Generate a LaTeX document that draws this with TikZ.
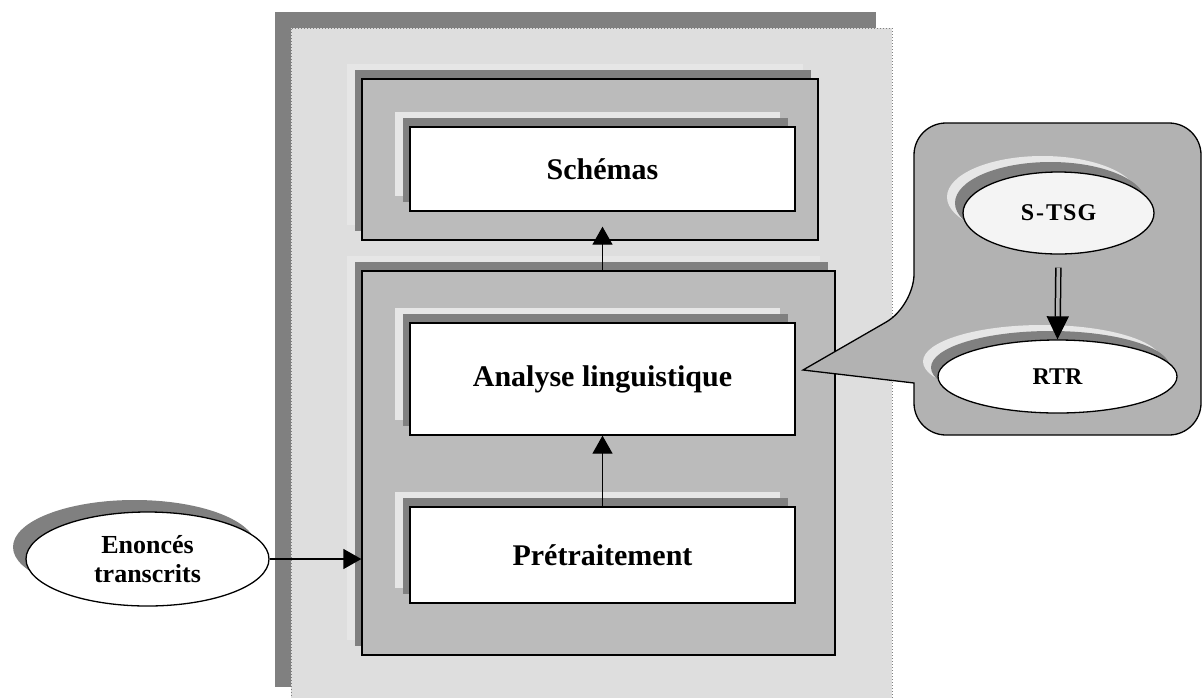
\documentclass[tikz,border=0pt]{standalone}
\usepackage{fontspec}
\setmainfont{Liberation Serif}
\usepackage{xcolor}
\usepackage{tikz}
\usetikzlibrary{positioning, shapes.geometric, arrows.meta, calc, shadows}
\definecolor{hpDark}{HTML}{808080}
\definecolor{hpLight}{HTML}{E6E6E6}
\definecolor{hpPanel}{HTML}{DEDEDE}
\definecolor{hpBox}{HTML}{BBBBBB}
\definecolor{hpBubble}{HTML}{B2B2B2}
\definecolor{hpPale}{HTML}{F4F4F4}
\tikzset{
  twoshadow/.style={
    general shadow={fill=hpLight, shadow xshift=-#1pt-8pt, shadow yshift=#1pt+8pt},
    general shadow={fill=hpDark, shadow xshift=-#1pt, shadow yshift=#1pt+2pt}
  },
  layer/.style={
    rectangle, draw=black, line width=1.3pt,
    fill=hpBox, inner sep=0pt,
    twoshadow=7
  },
  module/.style={
    rectangle, draw=black, line width=1.3pt,
    fill=white, inner sep=0pt,
    twoshadow=7,
    align=center,
    font=\bfseries\fontsize{30}{36}\selectfont
  },
  blob/.style={
    ellipse, draw=black, line width=1.3pt,
    inner sep=0pt, align=center
  },
  arrowline/.style={
    -{Triangle[length=18pt, width=20pt]},
    black, line width=1.3pt
  }
}

\begin{document}
\begin{tikzpicture}[x=1pt, y=-1pt]
        \useasboundingbox (0,0) rectangle (1202,697);
        % back panel
        \node[rectangle, fill=hpPanel, draw=gray, dotted, line width=1pt, inner sep=0pt,
              minimum width=601pt, minimum height=675pt,
              general shadow={fill=hpDark, shadow xshift=-16pt, shadow yshift=16pt}] (panel) at (591.5,365.5) {};
        % layers
        \node[layer, minimum width=456pt, minimum height=161pt] (schOuter) at (590,159.5) {};
        \node[layer, minimum width=473pt, minimum height=384pt] (anaOuter) at (598.5,463) {};
        \node[module, minimum width=385pt, minimum height=84pt] (schemas) at (602.5,169) {Schémas};
        \node[module, minimum width=385pt, minimum height=112pt] (analyse) at (602.5,379) {Analyse linguistique};
        \node[module, minimum width=385pt, minimum height=96pt] (pretrait) at (602.5,555) {Prétraitement};
        % input
        \node[blob, fill=white, minimum width=243pt, minimum height=94pt,
              font=\bfseries\fontsize{26}{29}\selectfont,
              general shadow={fill=hpDark, shadow xshift=-13pt, shadow yshift=12pt}] (enonces) at (147.5,559) {Enoncés\\transcrits};
        \draw[arrowline] (enonces.east) -- (enonces.east -| anaOuter.west);
        \draw[arrowline] (pretrait.north) -- (analyse.south);
        \draw[arrowline, shorten >=-14pt] (schemas.south |- anaOuter.north) -- (schemas.south |- schOuter.south);
        % callout
        \draw[fill=hpBubble, line width=1.3pt, rounded corners=32pt]
          (914,383) -- (914,435) -- (1201,435) -- (1201,123) -- (914,123) -- (914,306)
          [sharp corners] -- (803,370) -- cycle;
        \node[blob, fill=hpPale, minimum width=191pt, minimum height=82pt, twoshadow=8,
              font=\bfseries\fontsize{24}{28}\selectfont] (stsg) at (1058.5,213) {S\kern2pt-\kern2pt T\kern1pt S\kern1pt G};
        \node[blob, fill=white, minimum width=239pt, minimum height=73pt, twoshadow=7,
              font=\bfseries\fontsize{24}{28}\selectfont] (rtr) at (1057.5,376.5) {RTR};
        \draw[-{Triangle[length=23pt, width=22pt]}, double=hpBubble, double distance=3.5pt, line width=1.5pt,
              shorten <=13pt] (stsg.south) -- (rtr.north);
      \end{tikzpicture}
\end{document}
